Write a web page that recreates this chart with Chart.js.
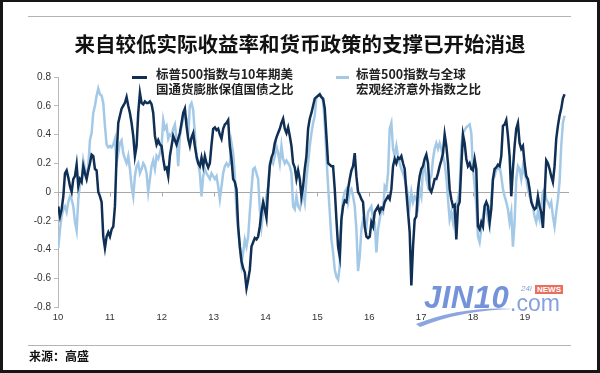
<!DOCTYPE html>
<html>
<head>
<meta charset="utf-8">
<script src="https://cdn.jsdelivr.net/npm/chart.js@4/dist/chart.umd.min.js"></script>
<style>
  html, body { margin: 0; padding: 0; background: #fff; }
  #page { position: relative; width: 600px; height: 373px; overflow: hidden; font-family: "Noto Sans CJK SC", sans-serif; }
  #chart { position: absolute; left: 0; top: 0; }
  .frame { position: absolute; left: 0; top: 0; width: 600px; height: 373px; box-sizing: border-box;
           border-style: solid; border-color: #161616; border-width: 2px 3px 3px 3px; pointer-events: none; }
  .rule { position: absolute; left: 28px; width: 543px; height: 1px; background: #b4b4b4; }
  .title { position: absolute; left: 0; top: 30px; width: 600px; text-align: center; font-size: 20.5px;
           line-height: 26px; font-weight: 700; color: #111; }
  .legend-text { position: absolute; top: 66px; font-size: 12.5px; line-height: 15px; font-weight: 700; color: #222; }
  .swatch { position: absolute; top: 76px; height: 3px; }
  .source { position: absolute; left: 29px; top: 348px; font-size: 12px; line-height: 16px; font-weight: 700; color: #111; }
  .wm { position: absolute; font-family: "Liberation Sans", Arial, sans-serif; }
</style>
</head>
<body>
<div id="page">
  <canvas id="chart" width="600" height="373"></canvas>

  <div class="rule" style="top:16px"></div>
  <div class="title">来自较低实际收益率和货币政策的支撑已开始消退</div>

  <div class="swatch" style="left:132px; width:15px; background:#0f2f55"></div>
  <div class="legend-text" style="left:156px">标普500指数与10年期美<br>国通货膨胀保值国债之比</div>
  <div class="swatch" style="left:336px; width:13px; background:#a4c9e7"></div>
  <div class="legend-text" style="left:356px">标普500指数与全球<br>宏观经济意外指数之比</div>

  <!-- watermark -->
  <svg class="wm" style="left:412px; top:300px" width="110" height="30">
    <path d="M4 24 Q50 6 102 9 Q50 10 8 27 Z" fill="#6f8fd8" opacity="0.8"/>
  </svg>
  <div class="wm" style="left:424px; top:280px; font-size:31px; font-weight:700; font-style:italic; color:#5d80d2; opacity:0.85; letter-spacing:0.5px">JIN10</div>
  <div class="wm" style="left:510px; top:290px; font-size:23px; color:#7090d6; opacity:0.85">.com</div>
  <div class="wm" style="left:521px; top:284px; font-size:8px; font-style:italic; color:#8aa0cc">24i</div>
  <div class="wm" style="left:535px; top:285px; font-size:8px; font-weight:700; color:#fff; background:#e9705f; padding:0 2px; line-height:9px">NEWS</div>

  <div class="rule" style="top:345px"></div>
  <div class="source">来源：高盛</div>
  <div class="frame"></div>
</div>

<script>
// ── Data (one sample every ~0.032 yr) ──
const yearLabels = ['10', '11', '12', '13', '14', '15', '16', '17', '18', '19'];

// S&P 500 / 10y TIPS
const darkRatio = [
  -0.10,-0.17,-0.12,-0.03,0.13,0.15,0.10,0.04,0.00,0.09,
  0.11,0.19,0.04,0.09,0.07,0.18,0.13,0.09,0.15,0.20,
  0.26,0.25,0.16,0.15,0.00,-0.03,-0.07,-0.31,-0.39,-0.31,
  -0.28,-0.31,-0.26,-0.24,-0.10,0.25,0.48,0.53,0.58,0.60,
  0.62,0.66,0.60,0.55,0.48,0.39,0.25,0.32,0.55,0.69,
  0.62,0.61,0.63,0.62,0.62,0.63,0.61,0.55,0.39,0.33,
  0.36,0.33,0.32,0.23,0.16,0.17,0.11,0.25,0.32,0.39,
  0.36,0.33,0.37,0.41,0.48,0.55,0.58,0.46,0.37,
  0.32,0.38,0.41,0.32,0.25,0.20,0.18,0.24,0.18,0.25,
  0.20,0.17,0.20,0.33,0.44,0.45,0.43,0.44,0.40,0.37,
  0.44,0.47,0.48,0.50,0.32,0.23,0.09,0.07,0.02,-0.24,
  -0.38,-0.48,-0.53,-0.56,-0.67,-0.61,-0.54,-0.38,-0.35,-0.32,
  -0.33,-0.31,-0.24,-0.14,-0.07,-0.12,-0.18,0.02,0.18,0.24,
  0.27,0.34,0.38,0.41,0.44,0.48,0.51,0.44,0.41,0.45,
  0.39,0.32,0.20,0.17,0.09,0.15,0.09,-0.03,0.04,0.16,
  0.25,0.44,0.51,0.55,0.60,0.65,
  0.66,0.67,0.68,0.66,0.65,0.58,0.39,0.20,0.19,0.18,
  0.18,0.02,-0.19,-0.38,-0.45,-0.19,-0.10,-0.06,-0.07,0.02,
  0.09,0.15,0.18,0.27,0.11,0.00,-0.02,-0.05,-0.07,-0.24,
  -0.31,-0.32,-0.31,-0.21,-0.24,-0.14,-0.12,-0.10,-0.14,-0.11,
  -0.12,-0.07,-0.05,-0.03,-0.05,0.02,0.18,0.23,0.20,0.24,
  0.23,0.25,0.20,0.16,0.00,-0.14,-0.28,-0.65,-0.38,-0.19,
  -0.17,0.02,0.11,0.16,0.18,0.23,0.26,0.20,0.02,0.00,
  0.04,0.09,0.09,0.13,0.18,
  0.22,0.27,0.40,0.32,0.20,0.02,-0.05,-0.10,-0.09,-0.33,
  -0.10,-0.07,0.18,0.40,0.34,0.23,0.18,0.20,0.16,0.15,
  0.23,0.16,-0.24,-0.26,-0.21,-0.24,-0.10,-0.07,-0.10,-0.21,
  -0.12,0.09,0.16,0.17,0.19,0.18,0.25,0.46,0.47,0.50,
  0.39,0.25,-0.03,0.16,0.32,0.44,0.48,0.34,0.30,0.32,
  0.20,0.11,0.09,0.02,-0.07,-0.10,-0.12,-0.11,-0.03,-0.10,
  -0.14,-0.25,-0.03,0.22,0.20,0.16,0.11,0.07,0.18,0.37,
  0.46,0.53,0.58,0.65,0.68
];

// S&P 500 / global economic surprise index
const lightRatio = [
  -0.39,-0.26,-0.17,-0.12,-0.10,-0.14,-0.07,-0.03,-0.05,-0.10,
  -0.21,-0.27,-0.05,0.05,0.08,0.22,0.16,0.11,0.18,0.36,
  0.41,0.55,0.60,0.67,0.72,0.68,0.67,0.62,0.46,0.33,
  0.31,0.32,0.31,0.33,0.37,0.20,0.27,0.34,0.36,0.27,
  0.23,0.20,0.25,0.16,0.04,-0.03,0.11,0.18,0.20,0.13,
  0.16,0.20,0.18,0.13,0.00,0.09,0.18,0.22,0.16,0.25,
  0.23,0.27,0.32,0.50,0.44,0.46,0.37,0.40,0.39,0.44,
  0.47,0.37,0.18,0.39,0.46,0.51,0.53,0.51,0.39,
  0.60,0.62,0.57,0.41,0.23,0.20,0.13,-0.03,0.11,0.16,
  0.13,0.11,0.09,0.13,0.11,0.09,0.11,0.04,-0.05,0.04,
  0.13,0.18,0.20,0.18,0.20,0.34,0.27,0.11,-0.14,-0.26,
  -0.38,-0.50,-0.42,-0.33,-0.38,-0.31,-0.14,0.02,0.16,0.17,
  0.13,0.09,-0.12,-0.24,-0.14,-0.10,-0.03,0.04,0.20,0.23,
  0.20,0.25,0.32,0.27,0.20,0.32,0.23,0.20,0.22,0.20,
  0.18,0.13,-0.10,-0.12,-0.03,-0.10,-0.12,-0.07,0.00,-0.07,
  0.09,0.20,0.32,0.41,0.48,0.53,
  0.66,0.67,0.67,0.66,0.63,0.48,0.25,0.04,-0.14,-0.33,
  -0.42,-0.54,-0.59,-0.61,-0.52,-0.19,-0.05,0.00,0.02,-0.07,
  0.00,0.02,-0.03,-0.10,-0.26,-0.55,-0.45,-0.26,-0.19,-0.21,
  -0.24,-0.14,-0.12,-0.10,-0.19,-0.21,-0.42,-0.26,-0.19,-0.12,
  -0.14,0.04,0.02,0.13,0.44,0.48,0.30,0.25,0.32,0.25,
  0.20,0.16,0.13,0.09,0.04,-0.03,-0.10,0.00,-0.07,-0.03,
  -0.05,-0.10,0.02,-0.03,0.16,0.18,0.09,0.04,0.09,0.11,
  0.23,0.30,0.34,0.30,0.34,
  0.30,0.25,0.20,0.10,-0.05,-0.19,-0.14,-0.21,-0.10,-0.10,
  -0.05,0.02,0.32,0.41,0.43,0.45,0.46,0.47,0.41,0.16,
  0.04,-0.10,-0.31,-0.35,-0.26,-0.17,-0.10,-0.12,-0.19,-0.24,
  -0.05,0.09,0.11,0.16,0.16,0.18,0.11,0.02,-0.03,-0.07,
  -0.12,-0.21,-0.14,-0.38,-0.21,0.09,0.18,0.16,0.09,0.18,
  0.13,0.09,0.02,-0.03,-0.05,-0.10,-0.17,-0.21,-0.14,-0.19,
  -0.10,0.00,0.02,-0.05,-0.07,-0.10,-0.07,-0.17,-0.24,-0.14,
  -0.05,0.07,0.32,0.48,0.53
];

// sample dates in decimal years
const firstSample = 2010.006;
const sampleStep = 0.0321;
const dates = darkRatio.map((_, i) => firstSample + i * sampleStep);

// ── small tick marks along the zero line ─────────────
const zeroTicks = {
  id: 'zeroTicks',
  beforeDatasetsDraw(chart) {
    const { ctx, scales: { x, y } } = chart;
    const y0 = Math.round(y.getPixelForValue(0)) + 0.5;
    ctx.save();
    ctx.strokeStyle = '#a8a8a8';
    ctx.lineWidth = 1;
    x.ticks.forEach(t => {
      const px = Math.round(x.getPixelForValue(t.value)) + 0.5;
      ctx.beginPath();
      ctx.moveTo(px, y0);
      ctx.lineTo(px, y0 + 4);
      ctx.stroke();
    });
    ctx.restore();
  }
};

new Chart(document.getElementById('chart'), {
  type: 'line',
  data: {
    datasets: [
      {
        data: darkRatio.map((v, i) => ({ x: dates[i], y: v })),
        borderColor: '#0f2f55',
        borderWidth: 2.5,
        pointRadius: 0,
        tension: 0
      },
      {
        data: lightRatio.map((v, i) => ({ x: dates[i], y: v })),
        borderColor: '#a4c9e7',
        borderWidth: 2.5,
        pointRadius: 0,
        tension: 0
      }
    ]
  },
  options: {
    responsive: false,
    animation: false,
    layout: { padding: { left: 0, top: 77, right: 31, bottom: 50 } },
    plugins: { legend: { display: false }, tooltip: { enabled: false } },
    scales: {
      x: {
        type: 'linear',
        min: 2010,
        max: 2019.85,
        grid: { display: false, drawTicks: false },
        border: { display: false },
        afterFit(scale) { scale.height = 16; },
        ticks: {
          stepSize: 1,
          includeBounds: false,
          autoSkip: false,
          maxRotation: 0,
          padding: 5,
          color: '#333',
          font: { family: '"Liberation Sans", Arial, sans-serif', size: 9.5 },
          callback: v => yearLabels[Math.round(v) - 2010] ?? ''
        }
      },
      y: {
        min: -0.8,
        max: 0.8,
        afterFit(scale) { scale.width = 58; },
        border: { display: true, color: '#b8b8b8' },
        grid: {
          color: c => (Math.abs(c.tick.value) < 1e-9 ? '#a8a8a8' : 'rgba(0,0,0,0)'),
          tickColor: '#b8b8b8',
          tickLength: 4
        },
        ticks: {
          stepSize: 0.2,
          padding: 3,
          color: '#333',
          font: { family: '"Liberation Sans", Arial, sans-serif', size: 10 },
          callback: v => (Math.abs(v) < 1e-9 ? '0' : v.toFixed(1))
        }
      }
    }
  },
  plugins: [zeroTicks]
});
</script>
</body>
</html>
